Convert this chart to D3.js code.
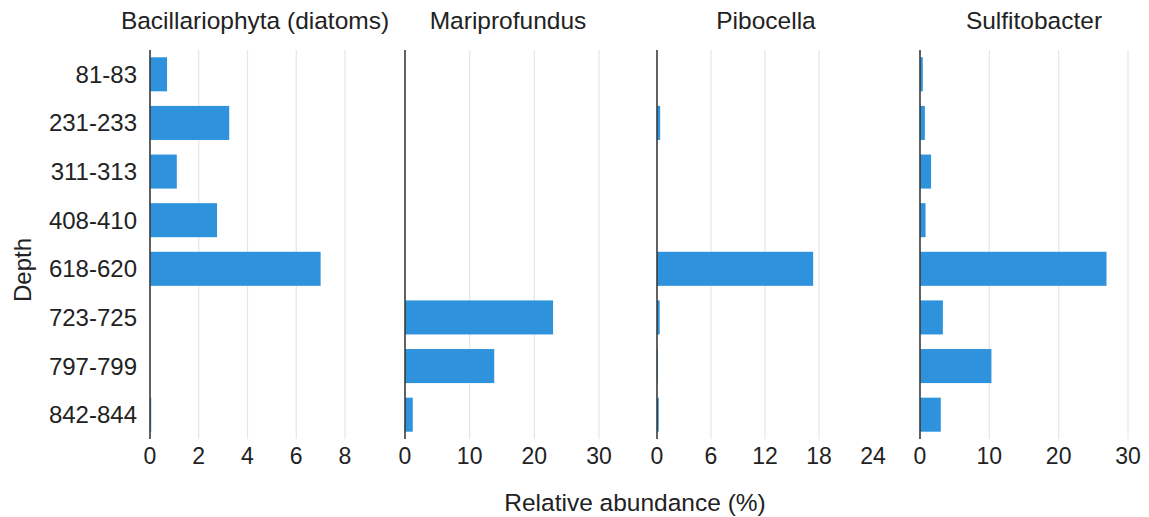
<!DOCTYPE html>
<html>
<head>
<meta charset="utf-8">
<script src="https://cdn.jsdelivr.net/npm/d3@7"></script>
<style>
  body { margin: 0; background: #fff; }
  svg text { font-family: "Liberation Sans", Arial, sans-serif; fill: #222; }
</style>
</head>
<body>
<div id="chart"></div>
<script>
var depths = ["81-83", "231-233", "311-313", "408-410", "618-620", "723-725", "797-799", "842-844"];
var panelNames = ["Bacillariophyta (diatoms)", "Mariprofundus", "Pibocella", "Sulfitobacter"];

var diatoms = [0.7, 3.25, 1.1, 2.75, 7.0, 0, 0, 0.05];
var mariprofundus = [0, 0, 0, 0, 0, 22.9, 13.8, 1.2];
var pibocella = [0, 0.35, 0, 0, 17.35, 0.3, 0.1, 0.2];
var sulfitobacter = [0.4, 0.7, 1.6, 0.8, 26.9, 3.3, 10.3, 3.0];

var ticks1 = [0, 2, 4, 6, 8];
var ticks2 = [0, 10, 20, 30];
var ticks3 = [0, 6, 12, 18, 24];
var ticks4 = [0, 10, 20, 30];

var width = 1149, height = 517;
var plotTop = 50, plotBottom = 439;
var barColor = "#2e93dc";

// where each panel's zero and its last tick land, title centre, and the
// right edge of the plotting area (grid lines stop there)
var layout = [
    { x0: 150, x1: 345, tc: 255, xEnd: 395 },
    { x0: 405, x1: 599, tc: 508, xEnd: 640 },
    { x0: 657, x1: 873, tc: 766, xEnd: 860 },
    { x0: 920, x1: 1128, tc: 1034, xEnd: 1140 }
];

var panels = [
    { name: panelNames[0], values: diatoms, ticks: ticks1 },
    { name: panelNames[1], values: mariprofundus, ticks: ticks2 },
    { name: panelNames[2], values: pibocella, ticks: ticks3 },
    { name: panelNames[3], values: sulfitobacter, ticks: ticks4 }
];

var svg = d3.select("#chart")
    .append("svg")
    .attr("width", width)
    .attr("height", height);

var y = d3.scaleBand()
    .domain(depths)
    .range([plotTop, plotBottom])
    .paddingInner(0.3)
    .paddingOuter(0.15);

// depth labels
svg.append("g")
    .selectAll("text")
    .data(depths)
    .enter()
    .append("text")
    .attr("x", 137)
    .attr("y", function (d) { return y(d) + y.bandwidth() / 2; })
    .attr("text-anchor", "end")
    .attr("dominant-baseline", "central")
    .style("font-size", "24px")
    .text(function (d) { return d; });

panels.forEach(function (p, i) {
    var L = layout[i];
    var tmax = p.ticks[p.ticks.length - 1];
    var x = d3.scaleLinear()
        .domain([0, tmax])
        .range([L.x0, L.x1]);

    var g = svg.append("g");

    // grid lines
    g.selectAll("line.grid")
        .data(p.ticks.filter(function (d) { return d > 0 && x(d) <= L.xEnd; }))
        .enter()
        .append("line")
        .attr("class", "grid")
        .attr("x1", function (d) { return x(d); })
        .attr("x2", function (d) { return x(d); })
        .attr("y1", plotTop)
        .attr("y2", plotBottom)
        .attr("stroke", "#e6e6e6")
        .attr("stroke-width", 1.2);

    // bars
    g.selectAll("rect")
        .data(p.values)
        .enter()
        .append("rect")
        .attr("x", x(0))
        .attr("y", function (d, j) { return y(depths[j]); })
        .attr("width", function (d) { return Math.max(0, x(d) - x(0)); })
        .attr("height", y.bandwidth())
        .attr("fill", barColor);

    // zero line
    g.append("line")
        .attr("x1", x(0))
        .attr("x2", x(0))
        .attr("y1", plotTop)
        .attr("y2", plotBottom)
        .attr("stroke", "#3a3a3a")
        .attr("stroke-width", 1.6);

    // tick labels
    g.selectAll("text.tick")
        .data(p.ticks)
        .enter()
        .append("text")
        .attr("class", "tick")
        .attr("x", function (d) { return x(d); })
        .attr("y", 456)
        .attr("text-anchor", "middle")
        .attr("dominant-baseline", "central")
        .style("font-size", "23px")
        .text(function (d) { return d; });

    // panel title
    g.append("text")
        .attr("x", L.tc)
        .attr("y", 20)
        .attr("text-anchor", "middle")
        .attr("dominant-baseline", "central")
        .style("font-size", "24.5px")
        .text(p.name);
});

svg.append("text")
    .attr("x", 635)
    .attr("y", 502)
    .attr("text-anchor", "middle")
    .attr("dominant-baseline", "central")
    .style("font-size", "24.5px")
    .text("Relative abundance (%)");

svg.append("text")
    .attr("transform", "translate(22,270) rotate(-90)")
    .attr("text-anchor", "middle")
    .attr("dominant-baseline", "central")
    .style("font-size", "24px")
    .text("Depth");
</script>
</body>
</html>
